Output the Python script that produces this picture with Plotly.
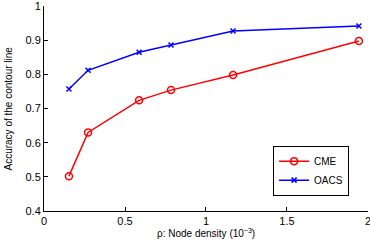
import plotly.graph_objects as go

density = [0.154, 0.272, 0.587, 0.784, 1.167, 1.944]
cme = [0.502, 0.630, 0.724, 0.754, 0.798, 0.898]
oacs = [0.757, 0.812, 0.865, 0.886, 0.927, 0.942]

x_ticks = [0, 0.5, 1, 1.5, 2]
x_labels = ["0", "0.5", "1", "1.5", "2"]
y_ticks = [0.4, 0.5, 0.6, 0.7, 0.8, 0.9, 1.0]
y_labels = ["0.4", "0.5", "0.6", "0.7", "0.8", "0.9", "1"]

fig = go.Figure()
fig.add_trace(go.Scatter(x=density, y=cme, name="CME", mode="lines+markers",
                         line=dict(color="#ff0000", width=1.5),
                         marker=dict(symbol="circle-open", size=7, color="#ff0000",
                                     line=dict(width=1.5, color="#ff0000"))))
fig.add_trace(go.Scatter(x=density, y=oacs, name="OACS", mode="lines+markers",
                         line=dict(color="#0000ff", width=1.5),
                         marker=dict(symbol="x-thin-open", size=5, color="#0000ff",
                                     line=dict(width=1.5, color="#0000ff"))))

font = "Liberation Sans, Arial, sans-serif"
fig.update_layout(
    width=370, height=241,
    margin=dict(l=44, r=2, t=6, b=30, autoexpand=False),
    paper_bgcolor="white", plot_bgcolor="white",
    font=dict(family=font, size=11, color="#000"),
    showlegend=True,
    legend=dict(x=0.707, y=0.075, xanchor="left", yanchor="bottom",
                bordercolor="#000", borderwidth=1, bgcolor="white",
                font=dict(size=10), tracegroupgap=0, itemwidth=30,
                itemsizing="trace"),
    xaxis=dict(range=[0, 2.0001], tickvals=x_ticks, ticktext=x_labels,
               showgrid=False, zeroline=False, showline=True, linecolor="#000",
               linewidth=1, ticks="inside", ticklen=4, tickcolor="#000",
               automargin=False, ticklabeloverflow="allow"),
    yaxis=dict(range=[0.4, 1.0003], tickvals=y_ticks, ticktext=y_labels,
               showgrid=False, zeroline=False, showline=True, linecolor="#000",
               linewidth=1, ticks="inside", ticklen=4, tickcolor="#000",
               automargin=False, ticklabeloverflow="allow"),
    annotations=[
        dict(text="ρ: Node density (10<sup>−3</sup>)", xref="paper", yref="paper",
             x=0.5, y=0, xanchor="center", yanchor="top", yshift=-14,
             showarrow=False, font=dict(size=10)),
        dict(text="Accuracy of the contour line", xref="paper", yref="paper",
             x=0, y=0.5, xanchor="center", yanchor="middle", xshift=-36,
             textangle=-90, showarrow=False, font=dict(size=10)),
    ],
)
fig.write_html("out.html", config={"displayModeBar": False},
               post_script="document.body.style.margin='0';")
